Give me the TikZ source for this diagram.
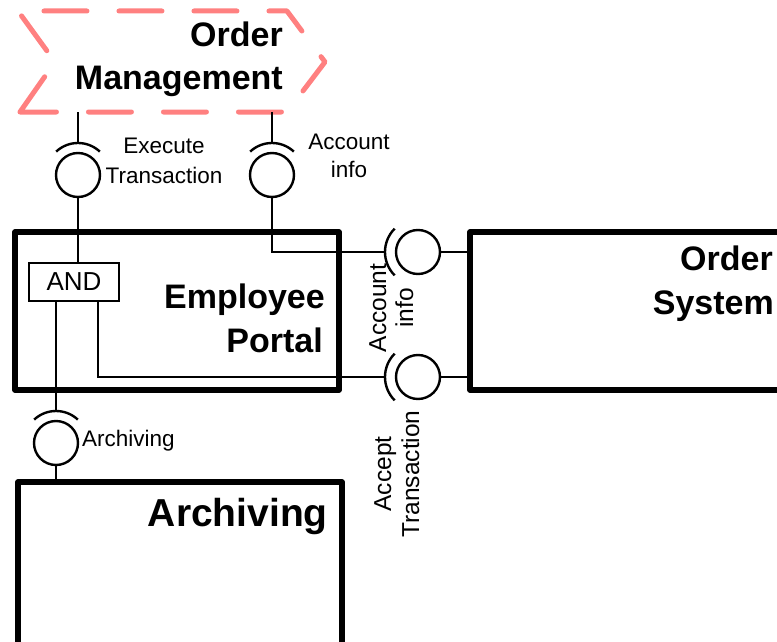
\documentclass[tikz,border=0pt]{standalone}
\usepackage{fontspec}
\setmainfont{Liberation Sans}
\usetikzlibrary{calc}
\definecolor{dashpink}{RGB}{255,128,128}
\begin{document}
\begin{tikzpicture}[x=1pt,y=-1pt,
  comp/.style={draw,line width=5.5pt,line join=round,inner sep=0pt},
  bigtxt/.style={font=\fontsize{34}{40}\selectfont\bfseries,inner sep=0pt,anchor=base east},
  smalltxt/.style={font=\fontsize{22.5}{30}\selectfont,inner sep=0pt,anchor=base},
  sidetxt/.style={font=\fontsize{24.5}{30}\selectfont,inner sep=0pt,anchor=base,rotate=90},
  ball/.style={draw,circle,line width=2.4pt,minimum size=44pt,inner sep=0pt},
  wire/.style={line width=2pt},
  sock/.style={line width=2.4pt},
  andbox/.style={draw,line width=1.5pt,minimum width=90pt,minimum height=38pt,inner sep=0pt,font=\fontsize{26}{30}\selectfont}
]
\useasboundingbox (0,0) rectangle (777,642);

% Order Management (dashed component)
\coordinate (om1) at (18,11);
\coordinate (om2) at (287,11);
\coordinate (om3) at (325,62);
\coordinate (om4) at (287,112);
\coordinate (om5) at (20,112);
\coordinate (om6) at (55,62);
\draw[dashpink,line width=5pt,line cap=round,line join=round,
      dash pattern=on 43pt off 32pt]
  (om5) -- (om6) -- (om1) -- (om2) -- (om3) -- (om4) -- cycle;
\node[bigtxt] (omA) at (283,47) {Order};
\node[bigtxt] (omB) at (283,90) {Management};

% components
\node[comp,minimum width=324pt,minimum height=158pt] (ep) at (177,311) {};
\node[bigtxt] (epA) at (325,308) {Employee};
\node[bigtxt] (epB) at (323,352) {Portal};

\node[comp,minimum width=330pt,minimum height=158pt] (os) at (635,311) {};
\node[bigtxt] (osA) at (773,270) {Order};
\node[bigtxt] (osB) at (774,314) {System};

\node[comp,minimum width=324pt,minimum height=183pt] (ar) at (180,573.5) {};
\node[bigtxt,font=\fontsize{39}{44}\selectfont\bfseries] (arT) at (328,526) {Archiving};

\node[andbox] (and) at (74,282) {AND};

% provided interfaces (balls)
\node[ball] (et) at (78,175) {};
\node[ball] (ai) at (272,175) {};
\node[ball] (ac) at (418,252) {};
\node[ball] (ts) at (418,377) {};
\node[ball] (arb) at (56,443) {};

% required interfaces (sockets)
\draw[sock] ($(et)+(47:32pt)$) arc[start angle=47,end angle=133,radius=32pt];
\draw[sock] ($(ai)+(47:32pt)$) arc[start angle=47,end angle=133,radius=32pt];
\draw[sock] ($(arb)+(47:32pt)$) arc[start angle=47,end angle=133,radius=32pt];
\draw[sock] ($(ac)+(135:33pt)$) arc[start angle=135,end angle=225,radius=33pt];
\draw[sock] ($(ts)+(135:33pt)$) arc[start angle=135,end angle=225,radius=33pt];
\coordinate (etS) at ($(et)+(90:32pt)$);
\coordinate (aiS) at ($(ai)+(90:32pt)$);
\coordinate (arS) at ($(arb)+(90:32pt)$);
\coordinate (acS) at ($(ac)+(180:33pt)$);
\coordinate (tsS) at ($(ts)+(180:33pt)$);

% wiring
\draw[wire] (et |- om5) -- (etS);
\draw[wire] (et.south) -- (et |- and.north);
\draw[wire] (ai |- om5) -- (aiS);
\draw[wire] (ai.south) |- (acS);
\draw[wire] (ac.east) -- (ac -| os.west);
\draw[wire] ([xshift=24pt]and.south) |- (tsS);
\draw[wire] (ts.east) -- (ts -| os.west);
\draw[wire] ([xshift=-18pt]and.south) -- (arS);
\draw[wire] (arb.south) -- (arb |- ar.north);

% interface labels
\node[smalltxt] (etA) at (164,153) {Execute};
\node[smalltxt] (etB) at (164,183) {Transaction};
\node[smalltxt] (aiA) at (349,149) {Account};
\node[smalltxt] (aiB) at (349,177) {info};
\node[sidetxt] (acA) at (386,308) {Account};
\node[sidetxt] (acB) at (413,308) {info};
\node[sidetxt] (tsA) at (391,474) {Accept};
\node[sidetxt] (tsB) at (419,474) {Transaction};
\node[smalltxt,anchor=base west] (arL) at (82,446) {Archiving};
\end{tikzpicture}
\end{document}
